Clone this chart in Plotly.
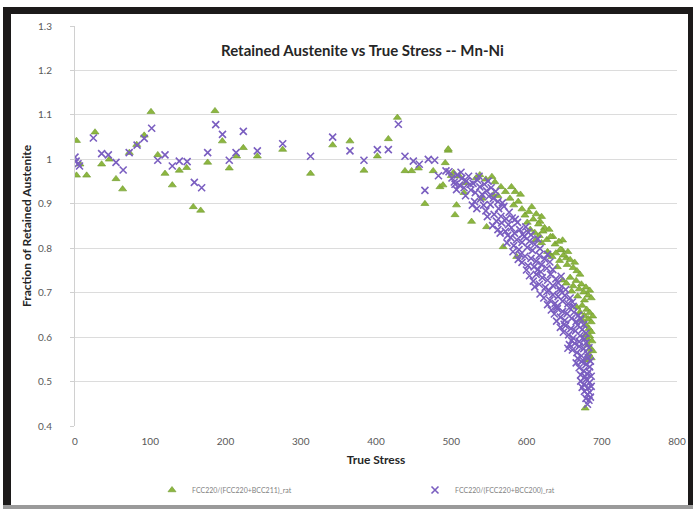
import plotly.graph_objects as go

# ---- data ----
stress_g = [2, 2, 15.5, 6.6, 26.6, 35.4, 45.6, 54.5, 63.3, 72.2, 82, 92, 101, 110, 119.6, 129.3, 138.6,
            148.4, 157.2, 167, 176.3, 186, 195.8, 205, 214.8, 223.7, 242.3, 276, 313, 342.4, 365.4, 384,
            401.8, 416.4, 428.4, 438.5, 447.4, 456.3, 465, 476, 485, 496, 492, 489, 500, 496,
            503, 538, 554, 507, 505, 527, 547, 580, 585, 607, 620, 618, 556, 569, 587, 635, 648, 647, 631, 653,
            511, 519, 533, 546, 558, 566, 572, 517, 541, 562,
            578, 583, 589, 594, 598, 603, 609, 613, 616, 624, 592, 601,
            605, 611, 617, 622, 627, 632, 638, 643, 630, 620, 645, 612,
            628, 634, 639, 644, 649, 654, 658, 662, 667, 671, 641, 655, 664,
            648, 653, 658, 662, 666, 670, 673, 676, 679, 682, 684, 686, 668, 677, 660,
            667, 671, 674, 677, 680, 682, 684, 686, 688, 679, 683, 686, 675,
            678, 681, 684, 687, 682, 685, 688, 683, 686, 680, 678]
frac_g = [1.042, 0.964, 0.964, 0.989, 1.061, 0.989, 1.0, 0.956, 0.933, 1.015, 1.033, 1.054, 1.107, 1.010,
          0.968, 0.942, 0.975, 0.981, 0.893, 0.885, 0.993, 1.109, 1.041, 0.980, 1.007, 1.026, 1.007, 1.022,
          0.968, 1.032, 1.041, 0.975, 1.007, 1.046, 1.094, 0.974, 0.974, 0.980, 0.9, 0.974, 0.938, 1.02,
          0.992, 0.942, 0.963, 1.023,
          0.97, 0.965, 0.961, 0.897, 0.875, 0.86, 0.848, 0.938, 0.927, 0.893, 0.871, 0.86, 0.92, 0.803,
          0.781, 0.826, 0.818, 0.796, 0.785, 0.778,
          0.962, 0.947, 0.958, 0.955, 0.949, 0.938, 0.927, 0.925, 0.912, 0.918,
          0.912, 0.897, 0.905, 0.888, 0.874, 0.882, 0.865, 0.877, 0.854, 0.846, 0.921, 0.858,
          0.842, 0.835, 0.828, 0.838, 0.819, 0.826, 0.809, 0.815, 0.842, 0.812, 0.797, 0.818,
          0.792, 0.781, 0.789, 0.772, 0.784, 0.763, 0.774, 0.756, 0.749, 0.741, 0.758, 0.792, 0.768,
          0.728, 0.721, 0.734, 0.715, 0.727, 0.708, 0.719, 0.701, 0.712, 0.694, 0.705, 0.688, 0.692, 0.683,
          0.703,
          0.667, 0.656, 0.671, 0.648, 0.662, 0.641, 0.655, 0.634, 0.647, 0.627, 0.619, 0.612, 0.637,
          0.604, 0.596, 0.602, 0.591, 0.582, 0.574, 0.569, 0.561, 0.553, 0.548, 0.44]

stress_p = [1.5, 4, 0, 6, 24.4, 35.4, 44.3, 54.5, 64, 72, 82.5, 92, 101.9, 110, 119.6, 129.3, 138.6, 149,
            158.6, 168.3, 176.3, 187, 196, 205, 214, 223.7, 242.3, 276, 313, 342.4, 365.4, 384, 401.8,
            416.4, 429.7, 438.5, 449.6, 457.5, 465, 469.5, 478, 483, 493, 505,
            497, 501, 504, 508, 511, 514, 517, 520, 523, 526, 529, 532, 535, 538, 541, 544, 547, 550, 553,
            556, 559, 562, 507, 519, 531, 543, 513, 537, 525, 549,
            528, 534, 539, 546, 552, 557, 563, 566, 570, 573, 577, 568, 560, 548, 581,
            555, 562, 567, 572, 576, 580, 584, 588, 591, 595, 599, 585, 575, 565, 602,
            574, 579, 583, 587, 590, 594, 597, 601, 604, 608, 611, 615, 618, 592, 582, 606,
            589, 594, 598, 602, 606, 610, 613, 617, 620, 624, 627, 631, 635, 615, 600, 628,
            604, 609, 613, 617, 621, 625, 628, 632, 635, 639, 642, 646, 619, 630, 644, 611,
            618, 623, 627, 631, 635, 638, 642, 645, 648, 651, 655, 658, 640, 628, 652, 661,
            633, 637, 641, 645, 648, 651, 654, 657, 660, 663, 666, 669, 650, 640, 672, 662,
            645, 649, 652, 656, 659, 662, 665, 668, 671, 674, 677, 679, 660, 655, 670, 676,
            657, 661, 664, 667, 670, 673, 676, 679, 681, 683, 668, 675, 682,
            666, 670, 673, 676, 679, 681, 684, 685, 672, 678, 683, 686,
            672, 676, 679, 682, 684, 686, 677, 681, 684, 679, 683, 681, 685, 674]
frac_p = [0.996, 0.99, 1.005, 0.985, 1.048, 1.013, 1.01, 0.993, 0.976, 1.015, 1.032, 1.047, 1.07, 0.998,
          1.01, 0.985, 0.996, 0.995, 0.948, 0.936, 1.015, 1.078, 1.056, 0.998, 1.015, 1.063, 1.019, 1.035,
          1.007, 1.05, 1.019, 0.998, 1.022, 1.022, 1.079, 1.007, 0.996, 0.989, 0.93, 1.0, 0.998, 0.963,
          0.974, 0.944,
          0.972, 0.958, 0.949, 0.965, 0.942, 0.957, 0.936, 0.951, 0.962, 0.931, 0.946, 0.925, 0.953, 0.938,
          0.921, 0.944, 0.929, 0.917, 0.936, 0.912, 0.928, 0.905, 0.932, 0.918, 0.905, 0.897, 0.971, 0.962,
          0.944, 0.951,
          0.897, 0.889, 0.911, 0.884, 0.898, 0.876, 0.889, 0.872, 0.894, 0.866, 0.881, 0.902, 0.861, 0.871,
          0.868,
          0.851, 0.842, 0.857, 0.838, 0.853, 0.846, 0.834, 0.858, 0.842, 0.831, 0.848, 0.865, 0.829, 0.834,
          0.836,
          0.812, 0.824, 0.806, 0.819, 0.797, 0.813, 0.826, 0.802, 0.816, 0.795, 0.809, 0.821, 0.799, 0.786,
          0.792, 0.83,
          0.775, 0.768, 0.782, 0.761, 0.777, 0.758, 0.771, 0.784, 0.763, 0.776, 0.755, 0.769, 0.752, 0.752,
          0.751, 0.786,
          0.738, 0.726, 0.741, 0.719, 0.734, 0.712, 0.728, 0.741, 0.716, 0.731, 0.722, 0.737, 0.747, 0.705,
          0.709, 0.713,
          0.697, 0.688, 0.702, 0.683, 0.695, 0.676, 0.691, 0.704, 0.681, 0.694, 0.675, 0.688, 0.668, 0.673,
          0.707, 0.679,
          0.661, 0.652, 0.664, 0.645, 0.658, 0.638, 0.653, 0.666, 0.642, 0.656, 0.635, 0.649, 0.629, 0.636,
          0.641, 0.669,
          0.622, 0.611, 0.626, 0.605, 0.619, 0.598, 0.614, 0.627, 0.603, 0.617, 0.596, 0.609, 0.592, 0.575,
          0.59, 0.628,
          0.583, 0.571, 0.586, 0.565, 0.579, 0.558, 0.574, 0.587, 0.562, 0.576, 0.552, 0.548, 0.554,
          0.542, 0.531, 0.545, 0.524, 0.538, 0.517, 0.533, 0.546, 0.515, 0.511, 0.522, 0.512,
          0.501, 0.493, 0.505, 0.486, 0.498, 0.489, 0.478, 0.471, 0.476, 0.462, 0.458, 0.449, 0.465, 0.487]

name_g = "FCC220/(FCC220+BCC211)_rat"
name_p = "FCC220/(FCC220+BCC200)_rat"
title_text = "Retained Austenite vs True Stress -- Mn-Ni"
x_title = "True Stress"
y_title = "Fraction of Retained Austenite"

GREEN = "#8DB640"
PURPLE = "#7A5EC0"
FONT = "Lato, 'Open Sans', sans-serif"

fig = go.Figure()
fig.add_trace(go.Scatter(
    x=stress_g, y=frac_g, mode="markers", name=name_g,
    marker=dict(symbol="triangle-up", size=7, color=GREEN,
                line=dict(color="#6E9A2E", width=0.6)),
))
fig.add_trace(go.Scatter(
    x=stress_p, y=frac_p, mode="markers", name=name_p,
    marker=dict(symbol="x-thin-open", size=7, color=PURPLE,
                line=dict(color=PURPLE, width=1.6)),
))

W, H = 693, 511
L, R, T, B = 75, 16, 26, 85
pw, ph = W - L - R, H - T - B


def px(xp):
    return (xp - L) / pw


def py(yp):
    return (H - B - yp) / ph


FRAME = "#1c1a1a"
shapes = [
    dict(type="rect", xref="paper", yref="paper", x0=px(3), x1=px(11), y0=py(506), y1=py(7),
         fillcolor=FRAME, line_width=0, layer="below"),
    dict(type="rect", xref="paper", yref="paper", x0=px(3), x1=px(693), y0=py(14), y1=py(7),
         fillcolor=FRAME, line_width=0, layer="below"),
    dict(type="rect", xref="paper", yref="paper", x0=px(688), x1=px(693), y0=py(506), y1=py(7),
         fillcolor=FRAME, line_width=0, layer="below"),
    dict(type="rect", xref="paper", yref="paper", x0=px(3), x1=px(693), y0=py(509), y1=py(505),
         fillcolor="#9a9a9a", line_width=0, layer="below"),
]

fig.update_layout(
    width=W, height=H,
    margin=dict(l=L, r=R, t=T, b=B, autoexpand=False),
    paper_bgcolor="white", plot_bgcolor="white",
    font=dict(family=FONT, color="#595959", size=10),
    showlegend=True,
    legend=dict(orientation="h", x=px(152), y=py(490), xanchor="left", yanchor="middle",
                entrywidth=218, entrywidthmode="pixels", itemwidth=30,
                font=dict(size=7, color="#7f7f7f"), bgcolor="rgba(0,0,0,0)"),
    shapes=shapes,
    annotations=[
        dict(text="<b>" + title_text + "</b>", xref="paper", yref="paper",
             x=px(362), y=py(50), xanchor="center", yanchor="middle", showarrow=False,
             font=dict(family=FONT, size=15, color="#262626")),
    ],
    xaxis=dict(range=[0, 800], dtick=100, showgrid=False, zeroline=False,
               showline=False, ticks="", ticklabelstandoff=8,
               tickfont=dict(size=10, color="#595959"),
               title=dict(text="<b>" + x_title + "</b>", standoff=9,
                          font=dict(size=12, color="#262626"))),
    yaxis=dict(range=[0.4, 1.3], dtick=0.1, showgrid=True, gridcolor="#dcdcdc", gridwidth=1,
               zeroline=False, showline=True, linecolor="#d0d0d0", linewidth=1,
               ticks="outside", ticklen=4, tickcolor="#d0d0d0", ticklabelstandoff=16,
               tickfont=dict(size=10, color="#595959"),
               title=dict(text="<b>" + y_title + "</b>", standoff=3,
                          font=dict(size=12, color="#262626"))),
)

fig.write_html("out.html", config={"displayModeBar": False},
               post_script="document.body.style.margin='0';document.body.style.padding='0';")
